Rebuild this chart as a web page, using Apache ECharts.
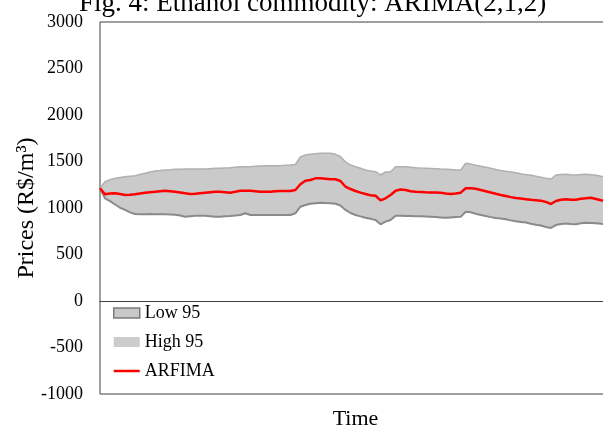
<!DOCTYPE html>
<html>
<head>
<meta charset="utf-8">
<script src="https://cdn.jsdelivr.net/npm/echarts@6/dist/echarts.min.js"></script>
<style>
  html, body { margin: 0; padding: 0; background: #ffffff; }
  #chart { width: 603px; height: 426px; }
</style>
</head>
<body>
<div id="chart"></div>
<script>
// Lower 95% bound (R$/m3)
const low95 = [
  1212,1104,1073,1038,1003,979,953,936,932,934,
  936,933,932,932,930,927,919,907,912,917,
  917,917,912,907,907,911,914,919,925,943,
  925,925,925,925,925,925,925,925,925,943,
  1014,1032,1045,1052,1057,1054,1051,1045,1027,979,
  946,925,910,896,884,871,825,853,871,917,
  916,915,914,912,910,908,905,902,899,896,
  899,902,905,960,954,938,925,913,902,893,
  886,878,867,857,850,843,831,821,812,796,
  785,817,829,833,828,826,836,842,839,836,
  830,825,823
];
// Upper 95% bound (R$/m3)
const high95 = [
  1212,1283,1303,1319,1328,1337,1342,1347,1360,1373,
  1387,1398,1403,1409,1412,1416,1417,1419,1419,1419,
  1419,1419,1423,1427,1427,1430,1433,1439,1444,1444,
  1444,1449,1452,1454,1455,1455,1455,1459,1462,1468,
  1548,1570,1577,1583,1588,1588,1588,1577,1554,1495,
  1462,1444,1427,1409,1398,1390,1355,1387,1390,1444,
  1444,1444,1439,1433,1430,1428,1426,1423,1419,1416,
  1413,1409,1409,1481,1473,1459,1450,1439,1427,1415,
  1404,1395,1388,1380,1369,1359,1352,1342,1331,1319,
  1312,1355,1359,1362,1357,1355,1359,1362,1358,1352,
  1342,1337,1333
];
// ARFIMA fitted / forecast values (R$/m3)
const arfima = [
  1212,1147,1156,1158,1151,1140,1143,1147,1156,1165,
  1170,1175,1181,1186,1181,1175,1167,1158,1151,1153,
  1159,1165,1170,1175,1175,1170,1165,1175,1186,1186,
  1186,1181,1175,1175,1175,1180,1183,1183,1183,1194,
  1255,1294,1301,1319,1319,1314,1309,1309,1290,1229,
  1204,1183,1165,1151,1137,1132,1081,1104,1140,1186,
  1199,1194,1180,1174,1172,1169,1167,1166,1164,1156,
  1151,1156,1165,1212,1212,1207,1194,1181,1167,1153,
  1140,1129,1117,1108,1101,1095,1089,1084,1079,1065,
  1043,1075,1089,1095,1089,1089,1099,1105,1111,1097,
  1083,1075,1070
];
// time index categories
const timeIdx = low95.map((_, i) => String(i + 1));
const yTicks = { min: -1000, max: 3000, step: 500 };

const titleText = 'Fig. 4: Ethanol commodity: ARIMA(2,1,2)';
const seriesNames = ['Low 95', 'High 95', 'ARFIMA'];

const bandWidth = high95.map((h, i) => h - low95[i]);
const serif = "'Liberation Serif', 'Times New Roman', serif";
// legend glyph for the red line: a thin bar inside a 26x10 box
const lineGlyph = 'path://M0,0 M0,3.75L26,3.75L26,6.25L0,6.25Z M26,10';

const chart = echarts.init(document.getElementById('chart'), null, { renderer: 'canvas' });
chart.setOption({
  animation: false,
  backgroundColor: '#ffffff',
  title: {
    text: titleText,
    left: 74,
    top: -15,
    textStyle: { fontFamily: serif, fontSize: 27, fontWeight: 'normal', color: '#000' }
  },
  grid: {
    left: 100, top: 22, bottom: 32, width: 511,
    outerBoundsMode: 'none',
    containLabel: false,
    show: true, borderColor: '#404040', borderWidth: 1, backgroundColor: 'transparent'
  },
  legend: {
    orient: 'vertical',
    left: 108,
    top: 299,
    itemWidth: 26,
    itemHeight: 10,
    itemGap: 11,
    textStyle: { fontFamily: serif, fontSize: 18, color: '#000' },
    data: [
      { name: seriesNames[0], icon: 'rect', itemStyle: { color: '#c8c8c8', borderColor: '#7a7a7a', borderWidth: 1.5 } },
      { name: seriesNames[1], icon: 'rect', itemStyle: { color: '#cccccc', borderWidth: 0 } },
      { name: seriesNames[2], icon: lineGlyph, itemStyle: { color: '#ff0000', borderWidth: 0 } }
    ]
  },
  xAxis: {
    type: 'category',
    data: timeIdx,
    boundaryGap: false,
    axisLabel: { show: false },
    axisTick: { show: false },
    axisLine: { show: true, lineStyle: { color: '#404040', width: 1 } },
    splitLine: { show: false },
    name: 'Time',
    nameLocation: 'middle',
    nameGap: 14,
    nameMoveOverlap: false,
    nameTextStyle: { fontFamily: serif, fontSize: 22, color: '#000' }
  },
  yAxis: {
    type: 'value',
    min: yTicks.min,
    max: yTicks.max,
    interval: yTicks.step,
    axisLine: { show: false },
    axisTick: { show: false },
    splitLine: { show: false },
    axisLabel: {
      fontFamily: serif, fontSize: 18, color: '#000', margin: 17,
      formatter: (v) => String(v)
    },
    name: 'Prices (R$/m³)',
    nameLocation: 'middle',
    nameRotate: 90,
    nameGap: 61,
    nameMoveOverlap: false,
    nameTextStyle: { fontFamily: serif, fontSize: 24, color: '#000' }
  },
  series: [
    {
      name: seriesNames[0],
      type: 'line',
      data: low95,
      stack: 'band',
      symbol: 'none',
      z: 3,
      lineStyle: { color: '#8a8a8a', width: 2 },
      itemStyle: { color: '#c8c8c8', borderColor: '#7a7a7a' }
    },
    {
      name: seriesNames[1],
      type: 'line',
      data: bandWidth,
      stack: 'band',
      symbol: 'none',
      z: 2,
      lineStyle: { color: '#b0b0b0', width: 1.5 },
      areaStyle: { color: '#cacaca', opacity: 1 },
      itemStyle: { color: '#cccccc' }
    },
    {
      name: seriesNames[2],
      type: 'line',
      data: arfima,
      symbol: 'none',
      z: 4,
      lineStyle: { color: '#ff0000', width: 2.5 },
      itemStyle: { color: '#ff0000' }
    }
  ]
});
</script>
</body>
</html>
